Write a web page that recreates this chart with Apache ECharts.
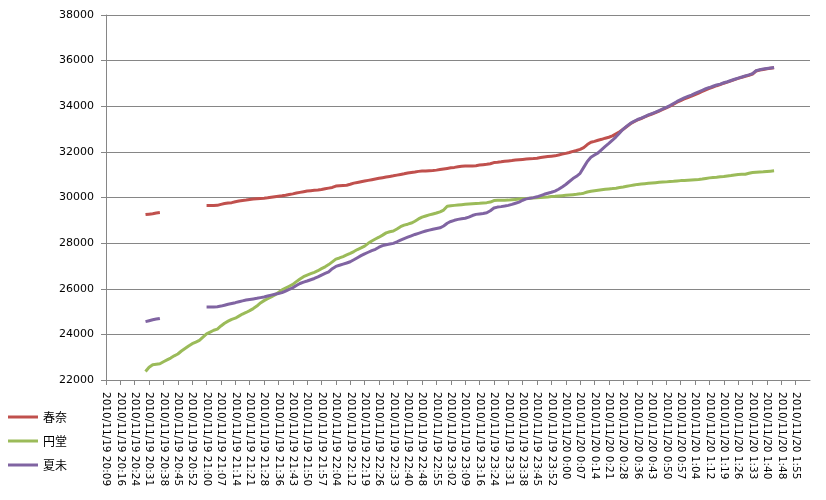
<!DOCTYPE html>
<html>
<head>
<meta charset="utf-8">
<script src="https://cdn.jsdelivr.net/npm/echarts@6/dist/echarts.min.js"></script>
<style>
  html, body { margin: 0; padding: 0; background: #fff; }
  #chart { width: 826px; height: 500px; }
</style>
</head>
<body>
<div id="chart"></div>
<script>
// tick labels (one every 4 samples)
const timeLabels = [
  '2010/11/19 20:09', '2010/11/19 20:16', '2010/11/19 20:24', '2010/11/19 20:31', '2010/11/19 20:38',
  '2010/11/19 20:45', '2010/11/19 20:52', '2010/11/19 21:00', '2010/11/19 21:07', '2010/11/19 21:14',
  '2010/11/19 21:21', '2010/11/19 21:28', '2010/11/19 21:36', '2010/11/19 21:43', '2010/11/19 21:50',
  '2010/11/19 21:57', '2010/11/19 22:04', '2010/11/19 22:12', '2010/11/19 22:19', '2010/11/19 22:26',
  '2010/11/19 22:33', '2010/11/19 22:40', '2010/11/19 22:48', '2010/11/19 22:55', '2010/11/19 23:02',
  '2010/11/19 23:09', '2010/11/19 23:16', '2010/11/19 23:24', '2010/11/19 23:31', '2010/11/19 23:38',
  '2010/11/19 23:45', '2010/11/19 23:52', '2010/11/20 0:00', '2010/11/20 0:07', '2010/11/20 0:14',
  '2010/11/20 0:21', '2010/11/20 0:28', '2010/11/20 0:36', '2010/11/20 0:43', '2010/11/20 0:50',
  '2010/11/20 0:57', '2010/11/20 1:04', '2010/11/20 1:12', '2010/11/20 1:19', '2010/11/20 1:26',
  '2010/11/20 1:33', '2010/11/20 1:40', '2010/11/20 1:48', '2010/11/20 1:55'
]
const samplesPerLabel = 4

const seriesNames = ['春奈', '円堂', '夏未']
const seriesColors = ['#C0504D', '#9BBB59', '#8064A2']

const haruna = [
  null, null, null, null, null, null, null, null, null, null, null,
  29250, 29270, 29290, 29320, 29340,
  null, null, null, null, null, null, null, null, null, null, null, null,
  29650, 29650, 29650, 29655, 29700, 29735, 29760, 29775, 29815, 29845,
  29870, 29890, 29915, 29935, 29950, 29960, 29970, 29985, 30010, 30035,
  30055, 30075, 30100, 30130, 30160, 30195, 30225, 30255, 30285, 30300,
  30315, 30330, 30350, 30380, 30410, 30440, 30500, 30520, 30530, 30540,
  30580, 30630, 30660, 30690, 30720, 30750, 30780, 30810, 30840, 30870,
  30900, 30925, 30950, 30980, 31010, 31040, 31075, 31100, 31120, 31145,
  31160, 31165, 31175, 31185, 31200, 31225, 31250, 31275, 31300, 31320,
  31345, 31370, 31380, 31385, 31385, 31395, 31420, 31440, 31455, 31480,
  31530, 31545, 31565, 31590, 31605, 31620, 31640, 31655, 31670, 31685,
  31695, 31705, 31720, 31750, 31775, 31795, 31810, 31825, 31860, 31900,
  31935, 31975, 32020, 32060, 32110, 32190, 32320, 32420, 32460, 32510,
  32550, 32600, 32640, 32700, 32790, 32880, 32990, 33110, 33230, 33320,
  33400, 33460, 33530, 33600, 33660, 33720, 33790, 33860, 33930, 34000,
  34090, 34180, 34250, 34320, 34380, 34440, 34510, 34580, 34650, 34720,
  34780, 34840, 34900, 34950, 35010, 35060, 35115, 35170, 35220, 35265,
  35315, 35360, 35415, 35545, 35585, 35615, 35640, 35665, 35685
]

const endou = [
  null, null, null, null, null, null, null, null, null, null, null,
  22370, 22560, 22670, 22690, 22710, 22800, 22880, 22960, 23060, 23140,
  23270, 23380, 23490, 23590, 23660, 23740, 23880, 24020, 24100, 24180,
  24230, 24370, 24490, 24580, 24660, 24710, 24800, 24890, 24960, 25040,
  25130, 25240, 25380, 25480, 25560, 25640, 25730, 25840, 25950, 26030,
  26110, 26190, 26310, 26430, 26530, 26600, 26660, 26720, 26790, 26880,
  26960, 27060, 27180, 27300, 27350, 27410, 27480, 27550, 27630, 27720,
  27790, 27870, 27990, 28090, 28180, 28260, 28350, 28450, 28500, 28530,
  28620, 28720, 28790, 28830, 28880, 28960, 29060, 29140, 29190, 29240,
  29280, 29320, 29370, 29450, 29620, 29640, 29655, 29670, 29685, 29700,
  29715, 29725, 29735, 29745, 29760, 29775, 29800, 29865, 29875, 29880,
  29882, 29885, 29900, 29915, 29930, 29945, 29960, 29970, 29980, 29990,
  30005, 30015, 30025, 30040, 30050, 30065, 30080, 30095, 30110, 30125,
  30140, 30160, 30190, 30240, 30275, 30300, 30320, 30340, 30360, 30375,
  30390, 30410, 30435, 30460, 30490, 30520, 30550, 30575, 30590, 30605,
  30620, 30635, 30650, 30665, 30675, 30685, 30700, 30710, 30725, 30740,
  30750, 30760, 30770, 30780, 30790, 30810, 30835, 30860, 30875, 30890,
  30910, 30925, 30945, 30965, 30990, 31010, 31015, 31020, 31060, 31095,
  31105, 31115, 31125, 31140, 31155, 31170
]

const natsumi = [
  null, null, null, null, null, null, null, null, null, null, null,
  24560, 24600, 24640, 24670, 24700,
  null, null, null, null, null, null, null, null, null, null, null, null,
  25200, 25200, 25200, 25210, 25240, 25280, 25320, 25355, 25390, 25430,
  25470, 25505, 25530, 25555, 25580, 25610, 25640, 25680, 25720, 25755,
  25790, 25830, 25900, 25970, 26040, 26140, 26230, 26290, 26340, 26395,
  26450, 26520, 26600, 26670, 26740, 26880, 26980, 27030, 27080, 27130,
  27185, 27270, 27360, 27450, 27530, 27600, 27670, 27730, 27820, 27890,
  27930, 27960, 27990, 28060, 28135, 28200, 28260, 28320, 28380, 28430,
  28480, 28530, 28570, 28610, 28640, 28670, 28750, 28870, 28950, 29000,
  29040, 29070, 29090, 29140, 29210, 29260, 29280, 29300, 29330, 29420,
  29540, 29580, 29600, 29625, 29655, 29700, 29750, 29800, 29880, 29940,
  29970, 29995, 30030, 30085, 30140, 30185, 30230, 30280, 30360, 30460,
  30570, 30700, 30830, 30930, 31060, 31320, 31580, 31760, 31860, 31955,
  32100, 32240, 32370, 32510, 32660, 32830, 33000, 33130, 33250, 33340,
  33420, 33480, 33550, 33620, 33680, 33740, 33810, 33880, 33950, 34030,
  34120, 34210, 34290, 34370, 34430, 34490, 34560, 34630, 34700, 34770,
  34820, 34875, 34930, 34970, 35030, 35075, 35130, 35185, 35235, 35280,
  35330, 35375, 35430, 35560, 35600, 35630, 35655, 35680, 35700
]

const seriesData = [haruna, endou, natsumi]

// fine category list: a label on every 4th sample, one extra sample closes the axis
const categories = timeLabels
  .flatMap(l => [l, ...Array(samplesPerLabel - 1).fill('')])
  .concat([''])
const lastIndex = categories.length - 1

const gridColor = '#868686'
const fontFamily = '"DejaVu Sans", Verdana, sans-serif'

const chart = echarts.init(document.getElementById('chart'), null, { renderer: 'canvas' })

chart.setOption({
  animation: false,
  backgroundColor: '#fff',
  textStyle: { fontFamily },
  grid: { left: 106, right: 16, top: 15, bottom: 120, containLabel: false },
  legend: {
    orient: 'vertical',
    left: 8,
    top: 410,
    padding: 0,
    icon: 'rect',
    itemWidth: 30,
    itemHeight: 3,
    itemGap: 10,
    data: seriesNames,
    textStyle: {
      fontFamily: '"Noto Sans CJK JP", sans-serif',
      fontSize: 12,
      lineHeight: 14,
      color: '#000',
    },
  },
  xAxis: {
    type: 'category',
    data: categories,
    boundaryGap: false,
    axisLine: { lineStyle: { color: gridColor, width: 1 } },
    axisTick: {
      length: 5,
      lineStyle: { color: gridColor },
      interval: index => index % samplesPerLabel === 0 && index < lastIndex,
    },
    axisLabel: {
      interval: samplesPerLabel - 1,
      rotate: -90,
      margin: 12,
      fontSize: 10.5,
      color: '#000',
      fontFamily,
    },
    splitLine: { show: false },
  },
  yAxis: {
    type: 'value',
    min: 22000,
    max: 38000,
    interval: 2000,
    axisLine: { show: true, lineStyle: { color: gridColor, width: 1 } },
    axisTick: { show: true, length: 5, inside: false, lineStyle: { color: gridColor } },
    axisLabel: { fontSize: 11, color: '#000', margin: 12, fontFamily, formatter: v => String(v) },
    splitLine: { show: true, lineStyle: { color: gridColor, width: 1 } },
  },
  series: seriesNames.map((name, i) => ({
    name,
    type: 'line',
    data: seriesData[i],
    showSymbol: false,
    symbol: 'none',
    connectNulls: false,
    lineStyle: { color: seriesColors[i], width: 3, cap: 'butt', join: 'round' },
    itemStyle: { color: seriesColors[i] },
    z: 2 + i,
  })),
})
</script>
</body>
</html>
